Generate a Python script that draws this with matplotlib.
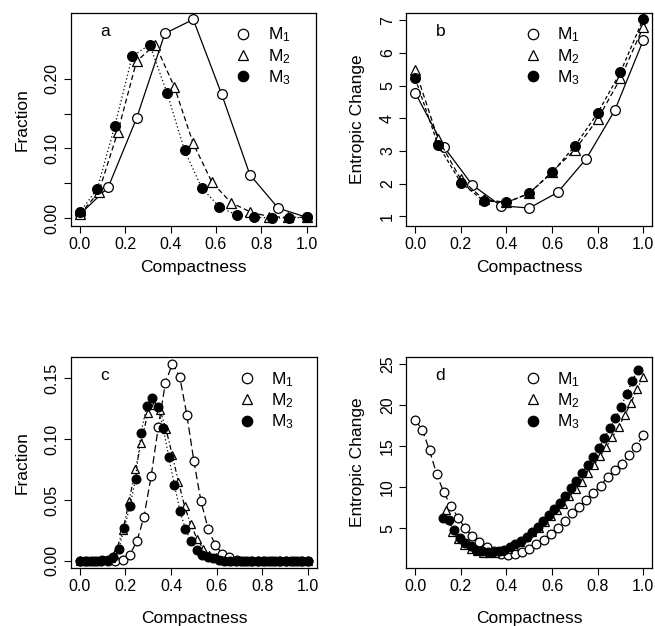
"""
Compactness distributions (Fraction) and entropic change for three
models M1, M2, M3; four-panel figure (a-d) in R base-graphics style.
"""

import matplotlib.pyplot as plt
from matplotlib.lines import Line2D

plt.rcParams["font.family"] = ["Liberation Sans", "DejaVu Sans"]
plt.rcParams["mathtext.default"] = "regular"

# ---- data -----------------------------------------------------------------
# panel a / b : short chains
A_X1 = [0, 0.125, 0.25, 0.375, 0.5, 0.625, 0.75, 0.875, 1.0]
A_X2 = [0, 0.083, 0.167, 0.25, 0.333, 0.417, 0.5, 0.583, 0.667, 0.75,
        0.833, 0.917, 1.0]
A_X3 = [0, 0.077, 0.154, 0.231, 0.308, 0.385, 0.462, 0.538, 0.615, 0.692,
        0.769, 0.846, 0.923, 1.0]
A_M1 = [0.005, 0.044, 0.143, 0.265, 0.285, 0.178, 0.062, 0.014, 0.001]
A_M2 = [0.005, 0.037, 0.123, 0.225, 0.249, 0.188, 0.107, 0.051, 0.022,
        0.009, 0.002, 0.001, 0.001]
A_M3 = [0.008, 0.042, 0.132, 0.232, 0.249, 0.179, 0.097, 0.043, 0.016,
        0.004, 0.001, 0.0, 0.0, 0.001]

B_X1 = [0, 0.125, 0.25, 0.375, 0.5, 0.625, 0.75, 0.875, 1.0]
B_X23 = [0, 0.1, 0.2, 0.3, 0.4, 0.5, 0.6, 0.7, 0.8, 0.9, 1.0]
B_M1 = [4.78, 3.13, 1.96, 1.32, 1.25, 1.73, 2.76, 4.24, 6.39]
B_M2 = [5.49, 3.37, 2.13, 1.52, 1.42, 1.70, 2.36, 3.03, 3.97, 5.22, 6.80]
B_M3 = [5.22, 3.19, 2.03, 1.47, 1.42, 1.70, 2.34, 3.15, 4.16, 5.41, 7.05]

# panel c / d : long chains
C_X1 = [0, 0.031, 0.063, 0.094, 0.125, 0.156, 0.188, 0.219, 0.25, 0.281,
        0.313, 0.344, 0.375, 0.406, 0.438, 0.469, 0.5, 0.531, 0.563, 0.594,
        0.625, 0.656, 0.688, 0.719, 0.75, 0.781, 0.813, 0.844, 0.875, 0.906,
        0.938, 0.969, 1.0]
C_X2 = [0, 0.027, 0.054, 0.081, 0.108, 0.135, 0.162, 0.189, 0.216, 0.243,
        0.270, 0.297, 0.324, 0.351, 0.378, 0.405, 0.432, 0.459, 0.486, 0.514,
        0.541, 0.568, 0.595, 0.622, 0.649, 0.676, 0.703, 0.730, 0.757, 0.784,
        0.811, 0.838, 0.865, 0.892, 0.919, 0.946, 0.973, 1.0]
C_X3 = [0, 0.024, 0.049, 0.073, 0.098, 0.122, 0.146, 0.171, 0.195, 0.220,
        0.244, 0.268, 0.293, 0.317, 0.341, 0.366, 0.390, 0.415, 0.439, 0.463,
        0.488, 0.512, 0.537, 0.561, 0.585, 0.610, 0.634, 0.659, 0.683, 0.707,
        0.732, 0.756, 0.780, 0.805, 0.829, 0.854, 0.878, 0.902, 0.927, 0.951,
        0.976, 1.0]
C_M1 = [0, 0, 0, 0, 0, 0, 0.001, 0.005, 0.016, 0.036, 0.070, 0.110, 0.146,
        0.162, 0.151, 0.120, 0.082, 0.049, 0.026, 0.013, 0.006, 0.003, 0.001,
        0, 0, 0, 0, 0, 0, 0, 0, 0, 0]
C_M2 = [0, 0, 0, 0, 0.001, 0.002, 0.010, 0.025, 0.049, 0.075, 0.097, 0.121,
        0.128, 0.124, 0.108, 0.087, 0.065, 0.045, 0.030, 0.018, 0.010, 0.005,
        0.003, 0.001, 0, 0, 0, 0, 0, 0, 0, 0, 0, 0, 0, 0, 0, 0]
C_M3 = [0, 0, 0, 0, 0.001, 0.001, 0.003, 0.010, 0.027, 0.045, 0.067, 0.105,
        0.127, 0.134, 0.126, 0.109, 0.085, 0.062, 0.041, 0.026, 0.016, 0.009,
        0.005, 0.003, 0.002, 0.001, 0, 0, 0, 0, 0, 0, 0, 0, 0, 0, 0, 0, 0, 0,
        0, 0]

D_M1 = [18.2, 17.0, 14.5, 11.6, 9.4, 7.76, 6.3, 5.0, 4.1, 3.4, 2.7, 2.2, 1.9,
        1.75, 1.87, 2.07, 2.44, 3.09, 3.58, 4.3, 5.0, 5.9, 6.83, 7.64, 8.46,
        9.35, 10.2, 11.3, 12.1, 12.9, 13.9, 14.96, 16.4]
D_X2 = C_X2[5:]
D_M2 = [7.2, 4.6, 3.7, 3.0, 2.5, 2.2, 2.0, 1.95, 2.0, 2.2, 2.5, 2.9, 3.4, 3.9,
        4.5, 5.1, 5.8, 6.5, 7.2, 8.0, 8.9, 9.8, 10.7, 11.7, 12.7, 13.8, 14.9,
        16.1, 17.4, 18.8, 20.3, 22.0, 23.4]
D_X3 = C_X3[5:41]
D_M3 = [6.3, 6.0, 4.8, 3.8, 3.2, 2.8, 2.4, 2.2, 2.1, 2.1, 2.2, 2.4, 2.7, 3.1,
        3.5, 4.0, 4.6, 5.2, 5.9, 6.6, 7.4, 8.1, 9.0, 9.9, 10.8, 11.8, 12.7,
        13.7, 14.8, 16.0, 17.2, 18.4, 19.8, 21.4, 22.9, 24.3]

LABELS = ["M$_1$", "M$_2$", "M$_3$"]
MARKERS = [("o", "white"), ("^", "white"), ("o", "black")]


def draw_series(ax, series, styles, ms):
    for (x, y), ls, (mk, fc) in zip(series, styles, MARKERS):
        ax.plot(x, y, color="black", linestyle=ls, linewidth=0.9,
                marker=mk, markerfacecolor=fc, markeredgecolor="black",
                markeredgewidth=0.9, markersize=ms)


def style_axes(ax, letter, ylabel, yticks, ylabels, ylim, legend_x,
               xpad=6):
    ax.set_xlim(-0.04, 1.04)
    ax.set_ylim(*ylim)
    ax.set_xticks([0, 0.2, 0.4, 0.6, 0.8, 1.0])
    ax.set_xticklabels(["0.0", "0.2", "0.4", "0.6", "0.8", "1.0"])
    ax.set_yticks(yticks)
    ax.set_yticklabels(ylabels, rotation=90, va="center")
    ax.tick_params(direction="out", length=5, width=0.8, labelsize=11.5,
                   pad=3)
    for sp in ax.spines.values():
        sp.set_linewidth(0.9)
    ax.set_xlabel("Compactness", fontsize=12.5, labelpad=xpad)
    ax.set_ylabel(ylabel, fontsize=12.5, labelpad=11)
    ax.text(0.12, 0.91, letter, transform=ax.transAxes, fontsize=12.5,
            ha="left", va="center")
    handles = [Line2D([], [], color="black", linestyle="None", marker=mk,
                      markerfacecolor=fc, markersize=7.5, markeredgewidth=0.9)
               for mk, fc in MARKERS]
    ax.legend(handles, LABELS, loc="upper left",
              bbox_to_anchor=(legend_x, 0.995), frameon=False, fontsize=12.5,
              handlelength=1.0, handletextpad=0.9, labelspacing=0.15,
              borderaxespad=0.3)


fig = plt.figure(figsize=(6.55, 6.26), dpi=100)
ax_a = fig.add_axes([0.108, 0.639, 0.374, 0.341])
ax_b = fig.add_axes([0.620, 0.639, 0.376, 0.341])
ax_c = fig.add_axes([0.108, 0.093, 0.376, 0.337])
ax_d = fig.add_axes([0.620, 0.093, 0.376, 0.337])

draw_series(ax_a, [(A_X1, A_M1), (A_X2, A_M2), (A_X3, A_M3)],
            ["-", (0, (4, 2.5)), (0, (1, 2))], 7)
style_axes(ax_a, "a", "Fraction", [0, 0.05, 0.10, 0.15, 0.20],
           ["0.00", "", "0.10", "", "0.20"], (-0.0115, 0.295), 0.62)

draw_series(ax_b, [(B_X1, B_M1), (B_X23, B_M2), (B_X23, B_M3)],
            ["-", (0, (4, 2.5)), (0, (3, 2))], 7)
style_axes(ax_b, "b", "Entropic Change", [1, 2, 3, 4, 5, 6, 7],
           ["1", "2", "3", "4", "5", "6", "7"], (0.7, 7.24), 0.43)

draw_series(ax_c, [(C_X1, C_M1), (C_X2, C_M2), (C_X3, C_M3)],
            [(0, (6, 3)), (0, (4, 2, 1, 2)), (0, (1, 2))], 6.3)
style_axes(ax_c, "c", "Fraction", [0, 0.05, 0.10, 0.15],
           ["0.00", "0.05", "0.10", "0.15"], (-0.0057, 0.1675), 0.63,
           xpad=12)

draw_series(ax_d, [(C_X1, D_M1), (D_X2, D_M2), (D_X3, D_M3)],
            [(0, (6, 3)), (0, (4, 2, 1, 2)), (0, (1, 2))], 6.3)
style_axes(ax_d, "d", "Entropic Change", [5, 10, 15, 20, 25],
           ["5", "10", "15", "20", "25"], (0.2, 25.9), 0.43, xpad=12)

fig.savefig("out.png", dpi=100)
